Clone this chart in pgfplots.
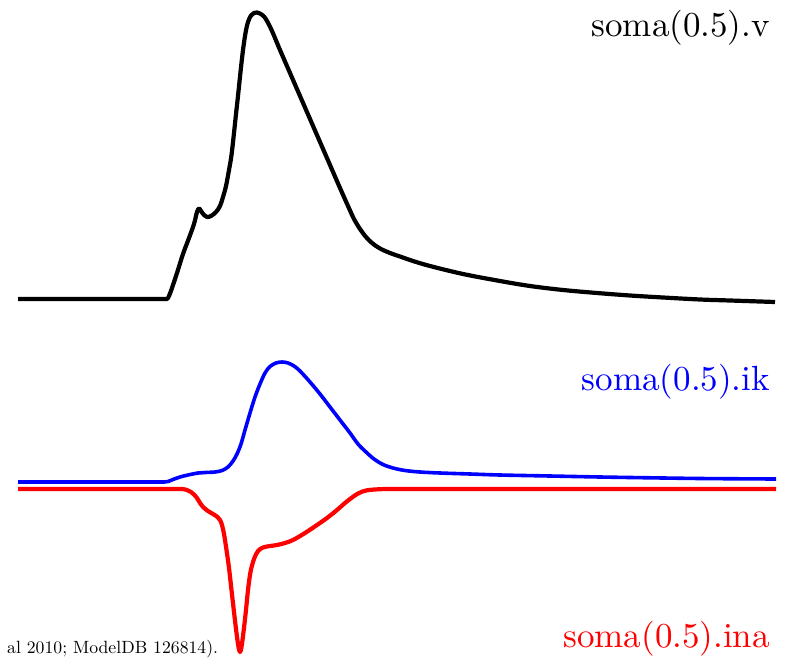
\documentclass[border=0pt]{standalone}
\usepackage{fontspec}
\setmainfont{lmroman10-regular}[Extension=.otf]
\usepackage{pgfplots}
\pgfplotsset{compat=1.18}
\begin{document}
\begin{tikzpicture}
\begin{axis}[
  scale only axis, width=789pt, height=658pt,
  xmin=0, xmax=789, ymin=0, ymax=658, y dir=reverse,
  hide axis, clip=false,
]
\path (rel axis cs:0,0) rectangle (rel axis cs:1,1);
% soma(0.5).v
\addplot[black, line width=4.2pt, smooth, tension=0.55, line join=round] coordinates {
(18,299) (60,299) (100,299) (130,299) (150,299) (158,299) (164,299) (167,299) (169,296) (172,288) (177,273) (183,254) (189,238) (194,224)
(197,212) (199,208.5) (201,211) (204,215) (207,217) (211,216) (216,212) (220,206)
(223,197) (226,186) (229,170) (231.5,155) (234,133) (236,114) (238,96) (240.5,72) (243,50)
(245.5,33) (248,22) (251,15.5) (254,13) (257,12.5) (260,13.5) (264,16.5) (267,21) (272,31)
(280,50) (290,73) (300,96) (310,119) (320,142) (330,165) (340,188) (348,206) (354,219)
(360,229) (366,237) (372,243) (380,248.5) (390,253) (400,256.5) (413,261) (430,266)
(463,274) (500,281) (530,286) (563,290) (597,293) (630,295.5) (663,297.5) (700,299.5) (730,300.5) (775,302)
};
% soma(0.5).ik
\addplot[blue, line width=3.6pt, smooth, tension=0.55, line join=round] coordinates {
(18,482) (60,482) (100,482) (130,482) (150,482) (158,482) (164,482) (168,481.5) (173,479.5) (180,477) (188,475) (198,473) (205,472.5) (215,472)
(222,470.5) (228,467) (233,461) (237,454) (241,444) (245,430) (250,413) (255,397) (260,384)
(265,373) (270,366.5) (276,363) (282,362) (288,363) (294,366) (300,371) (310,382)
(320,394) (330,407) (340,420) (350,433) (358,444) (366,452) (374,459) (383,464.5)
(393,468) (405,470.5) (420,472) (440,473) (470,474) (500,475) (550,476) (600,477) (650,477.8) (700,478.5) (740,478.8) (776,479)
};
% soma(0.5).ina
\addplot[red, line width=4.2pt, smooth, tension=0.55, line join=round] coordinates {
(18,489) (60,489) (100,489) (140,489) (165,489) (175,489) (182,489) (187,490) (191,492) (194,494.5) (197,498) (200,503) (203,507)
(208,511) (213,514) (217,516.5) (220,520) (222,525) (224,534) (226.5,550) (229,568)
(231.5,590) (234,612) (236.5,633) (238.5,647) (240,652) (241.5,647) (243.5,632) (246,610)
(248,590) (250.5,572) (254,559) (258,551) (263,547.5) (270,546) (277,545) (285,543)
(293,540) (305,533) (317,525) (327,518) (337,510) (345,503) (352,497.5) (359,493)
(367,490.3) (380,489.2) (395,489) (420,489) (460,489) (520,489) (600,489) (680,489) (776,489)
};
\node[anchor=base east, black, font=\fontsize{35}{40}\selectfont, inner sep=0pt] at (axis cs:770,37) {soma(0.5).v};
\node[anchor=base east, blue, font=\fontsize{35}{40}\selectfont, inner sep=0pt] at (axis cs:770,390) {soma(0.5).ik};
\node[anchor=base east, red, font=\fontsize{35}{40}\selectfont, inner sep=0pt] at (axis cs:770,647) {soma(0.5).ina};
\node[anchor=base west, black, font=\fontsize{17.7}{20}\selectfont, inner sep=0pt] at (axis cs:7,653) {al 2010; ModelDB 126814).};
\end{axis}
\end{tikzpicture}
\end{document}
